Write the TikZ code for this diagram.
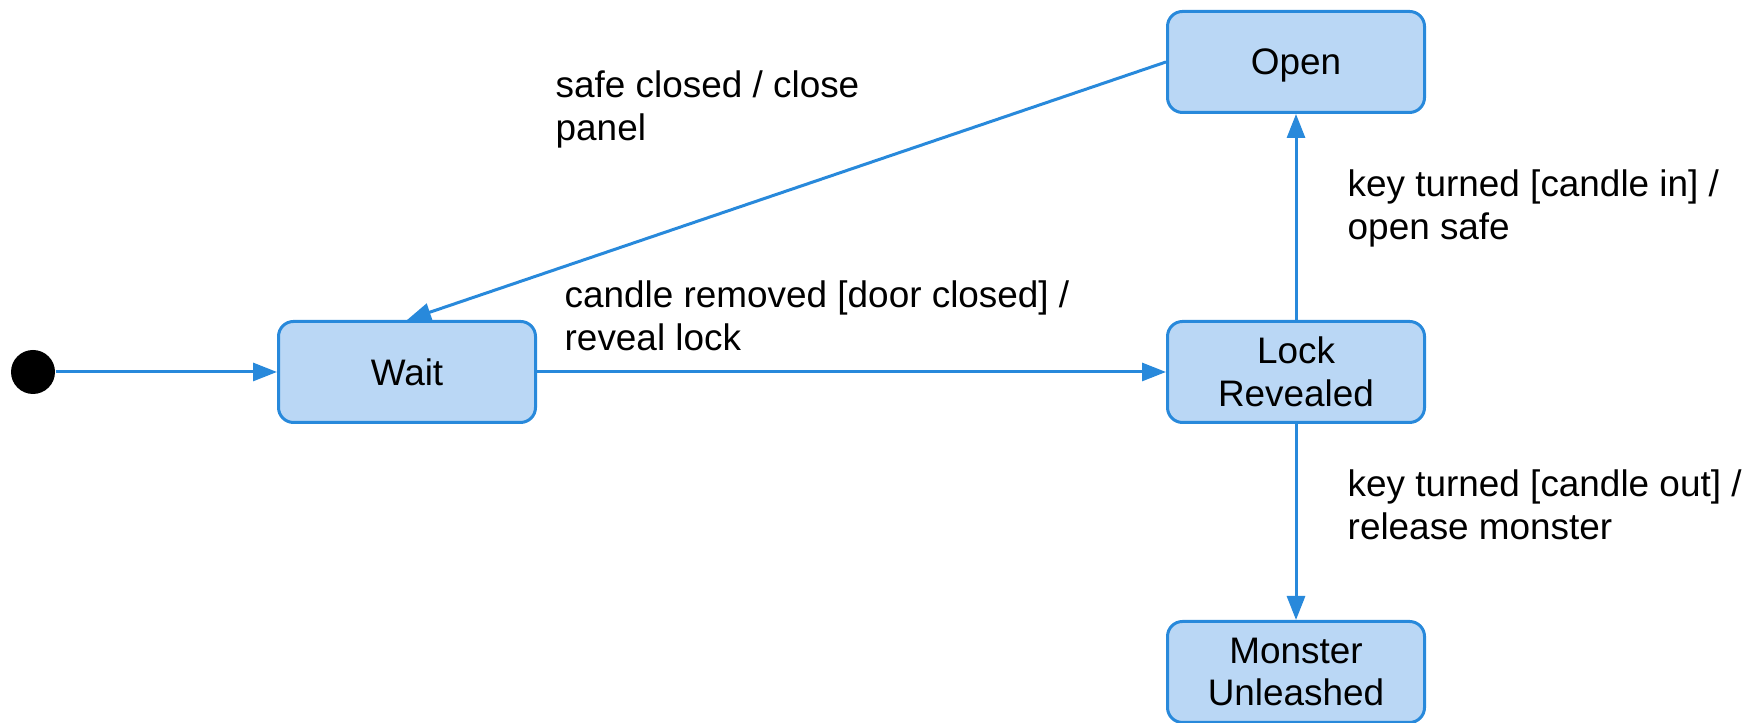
\documentclass[tikz,border=0pt]{standalone}
\usepackage{fontspec}
\setmainfont{Liberation Sans}
\usepackage{tikz}
\usetikzlibrary{arrows.meta}
\definecolor{statefill}{HTML}{BAD7F5}
\definecolor{stateline}{HTML}{2889DB}

\begin{document}
\begin{tikzpicture}[
	statebox/.style={draw=stateline, fill=statefill, line width=0.03cm, rounded corners=0.15cm,
		minimum width=2.57cm, minimum height=1.01cm, align=center, inner sep=0pt},
	trans/.style={draw=stateline, line width=0.03cm, -{Triangle[length=0.24cm, width=0.18cm]}},
	guard/.style={anchor=north west, align=left, inner sep=0pt},
	font=\fontsize{10.5pt}{12.2pt}\selectfont]
\useasboundingbox (0,0) rectangle (17.64,7.23);

\node (init) [circle, fill=black, minimum size=0.44cm, inner sep=0pt] at (0.33, 3.51) {};
\node (wait) [statebox] at (4.07, 3.51) {Wait};
\node (lock) [statebox] at (12.96, 3.51) {Lock\\Revealed};
\node (open) [statebox, text depth=0pt] at (12.96, 6.61) {Open};
\node (monster) [statebox] at (12.96, 0.51) {Monster\\Unleashed};

\draw[trans] (init) -- (wait);
\draw[trans] (wait) -- (lock);
\draw[trans] (open.west) -- (wait.north);
\draw[trans] (lock) -- (open);
\draw[trans] (lock) -- (monster);

\node (closelbl) [guard] at (5.55, 6.53) {safe closed / close\\panel};
\node (reveallbl) [guard] at (5.64, 4.43) {candle removed [door closed] /\\reveal lock};
\node (inlbl) [guard] at (13.47, 5.54) {key turned [candle in] /\\open safe};
\node (outlbl) [guard] at (13.47, 2.54) {key turned [candle out] /\\release monster};
\end{tikzpicture}
\end{document}
